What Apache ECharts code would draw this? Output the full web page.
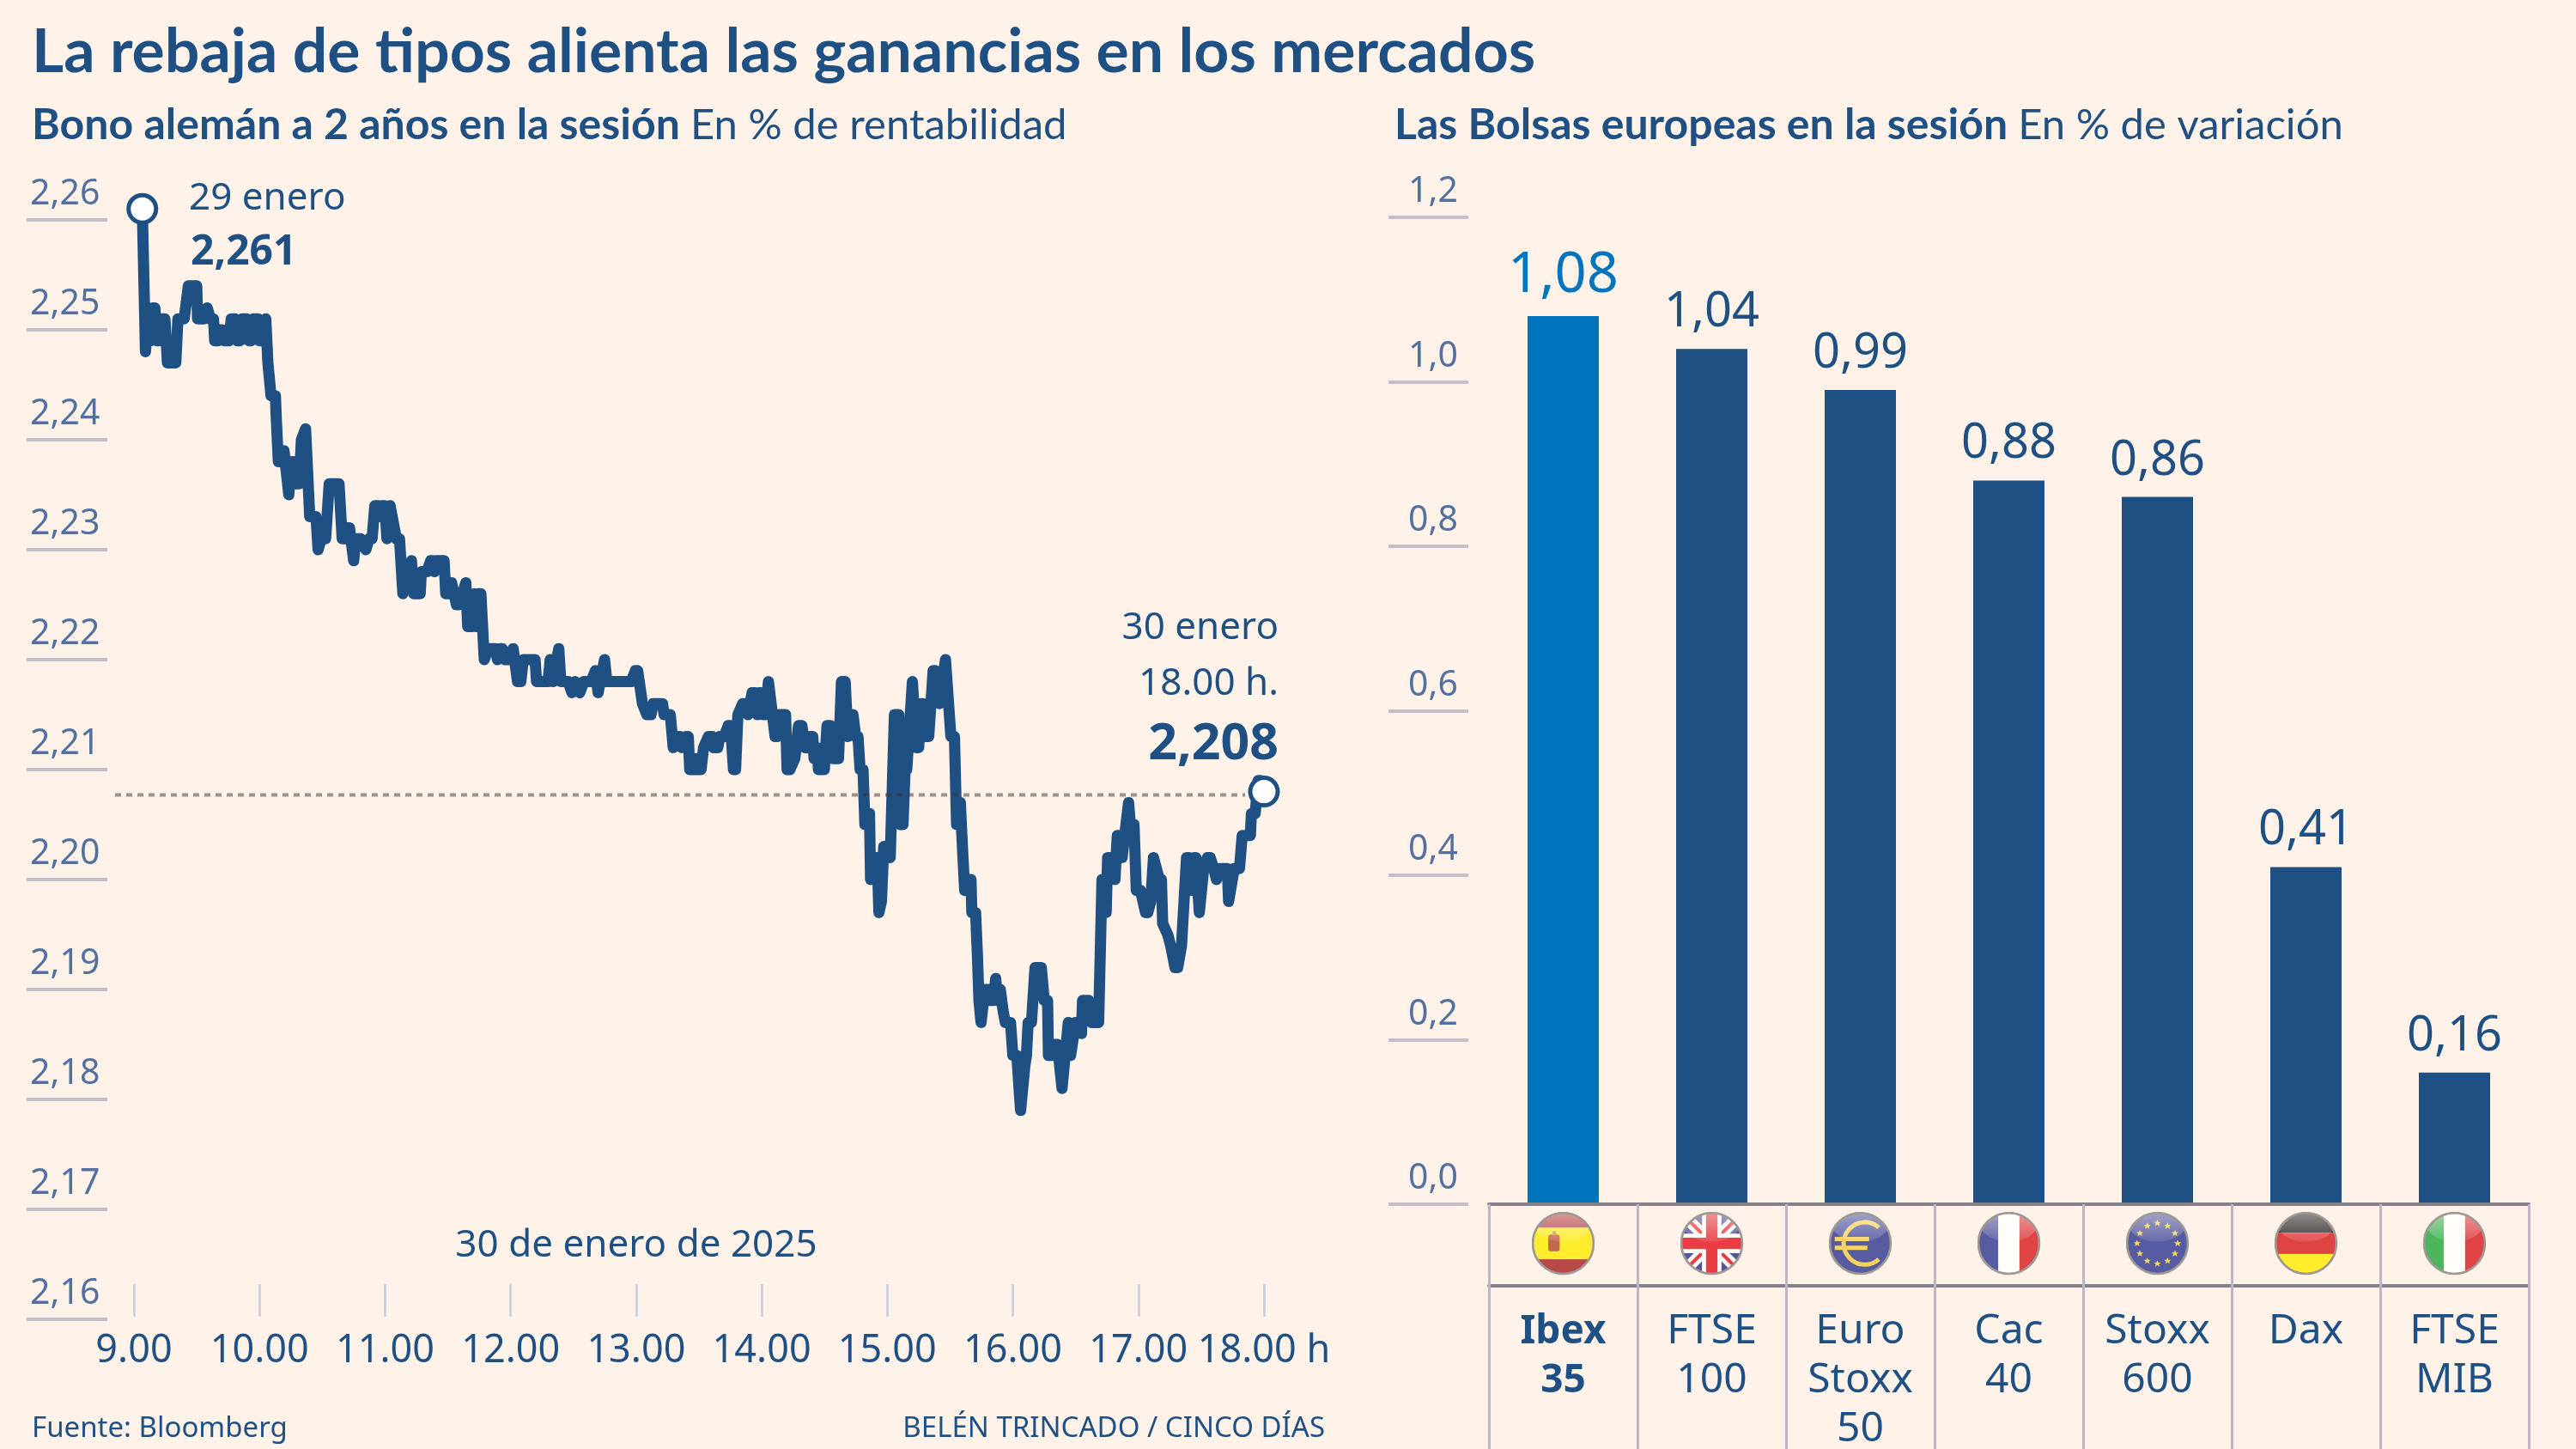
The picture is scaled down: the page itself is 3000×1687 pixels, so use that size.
<!DOCTYPE html>
<html><head><meta charset="utf-8">
<script src="https://cdn.jsdelivr.net/npm/echarts@6/dist/echarts.min.js"></script>
<style>html,body{margin:0;padding:0;background:#fff2e9}#c{width:3000px;height:1687px}</style>
</head><body><div id="c"></div>
<script>
// Left chart: minutes after 09:00 and 2-year Bund yield
const minutes = [
4,5.5,7,8,9,10,11,12,13.7,14.8,16,20,21,24,26,30,30.4,33.4,35,36.5,38,38.6,40,41,42,43.4,45.4,46.5,48.4,49.5,
50.6,51.6,54,55,56,57,59.4,60,62,63,64,65,65.5,67.6,68,69,70,71.7,74,75,76.6,77.4,79,80,82,83,84,87,88,89.5,
91.6,93.3,98,99.5,101,102,103,105,106,108.3,110.8,112.4,113.8,115.1,116.8,117.6,118.7,119.9,120.9,122.4,125.4,126.9,128.5,132.6,133.7,136.8,137.3,140,141.8,142.8,
143.6,144.6,148.2,149,151,151.8,152.3,154.1,155.5,158.6,159.5,161.9,162.7,163.6,164.4,165.8,167.4,169.2,172.6,173.7,175,176,177.4,179.4,181.2,181.9,183.3,184.9,186,191.7,
192.4,197.9,198.9,200.2,203,204,207.5,209.3,210.9,213.1,215,218.4,220.5,221.8,224.9,226,237.6,239.6,240.7,243,245.1,247.1,248.1,252.6,253.3,256.3,257.7,259.8,260.8,261.8,
263.9,264.9,265.6,267.6,268.6,269.4,271,272.2,274.5,276.3,277.1,279,280,282,284,285.1,286.5,287.5,288.6,290.9,292.7,293.4,295.4,297,297.9,298.7,299.8,300.6,301.8,303.2,
303.9,306.4,307.3,308.3,311.4,312.1,313.5,315.8,317.6,319.2,320.6,322,322.8,324.4,325,326.5,327.1,329.9,331.2,332.9,334,336.7,338.1,339.9,341.1,343.6,344.3,344.9,346,347,
348.4,349.3,350.4,351.5,352,353.8,355.2,356,357.2,358.3,359.3,360.3,361.4,363.4,365.5,366.1,367.5,368.9,369.3,372,372.7,373.9,375,376.1,377.1,378.5,379.8,381.9,383,384.9,
385.7,387.8,388.4,390.4,392.1,393.1,394.9,395.9,397,398,399,400,400.4,402.2,403.1,403.8,404.8,405.6,406.6,408.6,409.3,410.7,411.8,412.7,414,415.4,416.4,418.9,420,421.9,
423.7,425.7,426.5,427.3,428.9,430.6,433.6,435,436.6,437,439.1,440.1,441.4,442.4,443.5,444.2,445.5,446.5,447.6,448.4,450,451.4,452.8,453.3,456.2,457.8,461,462.6,464.6,465.3,
466.7,468.8,469.9,470.8,472.2,475.3,476,476.6,477.9,479,481,483.4,484.5,485.9,487.2,488,490,491,491.6,494,495.4,497.5,498.8,500.6,503,504.3,505.7,506.6,507.5,509.1,
509.8,511.2,513,514.3,516,517.3,518,519,522.5,523.1,523.9,525.8,528.3,529.6,533.5,534,535.8,537.2,538.2,540];
const yields = [
2.261,2.248,2.252,2.249,2.252,2.252,2.249,2.249,2.251,2.251,2.247,2.247,2.251,2.251,2.254,2.254,2.251,2.251,2.252,2.251,2.251,2.249,2.249,2.250,2.250,2.249,2.249,2.251,2.251,2.249,
2.249,2.251,2.251,2.249,2.249,2.251,2.251,2.249,2.249,2.251,2.247,2.245,2.244,2.244,2.242,2.238,2.238,2.239,2.235,2.238,2.238,2.236,2.236,2.240,2.241,2.237,2.233,2.233,2.230,2.231,
2.231,2.236,2.236,2.231,2.231,2.232,2.232,2.229,2.231,2.231,2.230,2.231,2.231,2.234,2.234,2.233,2.234,2.234,2.231,2.234,2.231,2.231,2.226,2.229,2.226,2.226,2.228,2.228,2.229,2.229,
2.228,2.229,2.229,2.226,2.226,2.227,2.227,2.225,2.225,2.227,2.223,2.223,2.226,2.223,2.226,2.226,2.220,2.221,2.221,2.220,2.221,2.221,2.220,2.220,2.221,2.221,2.218,2.218,2.220,2.220,
2.218,2.218,2.220,2.218,2.221,2.218,2.218,2.217,2.218,2.217,2.218,2.218,2.219,2.217,2.220,2.218,2.218,2.219,2.219,2.216,2.215,2.215,2.216,2.216,2.215,2.215,2.212,2.213,2.213,2.212,
2.213,2.213,2.210,2.210,2.211,2.210,2.210,2.212,2.213,2.213,2.212,2.212,2.213,2.213,2.214,2.214,2.210,2.210,2.215,2.216,2.216,2.215,2.217,2.217,2.215,2.217,2.217,2.215,2.215,2.218,
2.218,2.213,2.213,2.215,2.215,2.210,2.210,2.211,2.214,2.214,2.212,2.212,2.213,2.213,2.211,2.212,2.210,2.210,2.214,2.214,2.211,2.211,2.218,2.218,2.213,2.215,2.215,2.213,2.213,2.210,
2.210,2.205,2.205,2.206,2.200,2.202,2.202,2.197,2.198,2.203,2.203,2.202,2.202,2.215,2.215,2.205,2.205,2.212,2.210,2.218,2.218,2.212,2.212,2.216,2.216,2.213,2.213,2.219,2.219,2.216,
2.216,2.220,2.220,2.213,2.213,2.205,2.207,2.203,2.199,2.199,2.200,2.200,2.197,2.197,2.193,2.189,2.187,2.187,2.190,2.190,2.189,2.189,2.191,2.189,2.190,2.188,2.187,2.187,2.184,2.184,
2.179,2.183,2.184,2.187,2.187,2.192,2.192,2.189,2.189,2.184,2.184,2.185,2.185,2.183,2.181,2.181,2.185,2.187,2.184,2.184,2.187,2.187,2.186,2.189,2.189,2.187,2.187,2.200,2.197,2.202,
2.202,2.200,2.204,2.204,2.202,2.207,2.207,2.204,2.205,2.199,2.199,2.197,2.197,2.198,2.202,2.202,2.200,2.200,2.196,2.195,2.194,2.192,2.192,2.194,2.202,2.202,2.199,2.202,2.202,2.197,
2.197,2.201,2.202,2.202,2.201,2.200,2.200,2.201,2.201,2.198,2.198,2.201,2.201,2.204,2.204,2.206,2.206,2.209,2.209,2.208];
const closeLevel = 2.2077;
const yTicksLeft = {min: 2.16, max: 2.26, step: 0.01};
const hourTicks = {min: 0, max: 540, step: 60};

// Right chart
const indices = ['Ibex\n35','FTSE\n100','Euro\nStoxx\n50','Cac\n40','Stoxx\n600','Dax','FTSE\nMIB'];
const changes = [1.08,1.04,0.99,0.88,0.86,0.41,0.16];

// Text
const titleText = 'La rebaja de tipos alienta las ganancias en los mercados';
const NAVY = '#1f5084', BLUE = '#0074bd', AXIS = '#54709f', TICK = '#c6bdcb', BG = '#fff2e9';
const SANS = '"Noto Sans"', HEAD = 'Lato';

function svgFlag(inner){
  const s = `<svg xmlns="http://www.w3.org/2000/svg" width="144" height="144" viewBox="0 0 72 72"><defs><clipPath id="c"><circle cx="36" cy="36" r="34.5"/></clipPath><linearGradient id="g" x1="0" y1="0" x2="0" y2="1"><stop offset="0" stop-color="#fff" stop-opacity=".55"/><stop offset="1" stop-color="#fff" stop-opacity=".1"/></linearGradient></defs><g clip-path="url(#c)">${inner}<ellipse cx="36" cy="13" rx="33" ry="21" fill="url(#g)"/></g><circle cx="36" cy="36" r="34.5" fill="none" stroke="#85827f" stroke-width="2.6"/></svg>`;
  return 'image://data:image/svg+xml;charset=utf-8,' + encodeURIComponent(s);
}
function stars(){
  let o='';
  for(let i=0;i<12;i++){const a=i*Math.PI/6,x=36+23*Math.sin(a),y=36-23*Math.cos(a);
    o+=`<path transform="translate(${x.toFixed(1)} ${y.toFixed(1)})" d="M0-4 1.2-1.2 4-1.2 1.8.6 2.6 3.4 0 1.7-2.6 3.4-1.8.6-4-1.2-1.2-1.2Z" fill="#f5cf3a"/>`;}
  return o;
}
const flags = [
 svgFlag('<rect width="72" height="72" fill="#a8201f"/><rect y="18" width="72" height="36" fill="#ffec00"/><rect x="19" y="26" width="13" height="19" rx="3" fill="#b5452a"/><rect x="24" y="22" width="4" height="5" fill="#c78b2b"/>'),
 svgFlag('<rect width="72" height="72" fill="#2b2f86"/><path d="M0 0 72 72M72 0 0 72" stroke="#fff" stroke-width="13"/><path d="M0 0 72 72M72 0 0 72" stroke="#e3101b" stroke-width="4"/><path d="M36 0V72M0 36H72" stroke="#fff" stroke-width="22"/><path d="M36 0V72M0 36H72" stroke="#e3101b" stroke-width="13"/>'),
 svgFlag('<rect width="72" height="72" fill="#2e3690"/><path d="M57 18A24 24 0 1 0 57 54" fill="none" stroke="#f6cb3c" stroke-width="5"/><path d="M7 31H46M7 41H44" stroke="#f6cb3c" stroke-width="5"/>'),
 svgFlag('<rect width="24" height="72" fill="#2e3690"/><rect x="24" width="24" height="72" fill="#fff"/><rect x="48" width="24" height="72" fill="#d8181c"/>'),
 svgFlag('<rect width="72" height="72" fill="#2e3690"/>'+stars()),
 svgFlag('<rect width="72" height="24" fill="#000"/><rect y="24" width="72" height="24" fill="#d8181c"/><rect y="48" width="72" height="24" fill="#ffec00"/>'),
 svgFlag('<rect width="24" height="72" fill="#21a638"/><rect x="24" width="24" height="72" fill="#fff"/><rect x="48" width="24" height="72" fill="#d8181c"/>')
];

const comma = (v,d)=>v.toFixed(d).replace('.',',');
const linePts = minutes.map((m,i)=>[m,yields[i]]);
const lastIdx = minutes.length-1;

function txt(x,y,text,size,weight,align,fill,font){
  return {type:'text',silent:true,z:20,style:{x,y,text,fill:fill||NAVY,align:align||'left',verticalAlign:'bottom',
    font:`${weight||400} ${size}px ${font||SANS}`}};
}
function richTitle(x,y,b,r){
  return {type:'text',silent:true,z:20,style:{x,y,verticalAlign:'bottom',text:`{b|${b}\u00a0}{r|${r}}`,
    rich:{b:{fontFamily:HEAD,fontWeight:700,fontSize:50,fill:NAVY},
          r:{fontFamily:HEAD,fontWeight:400,fontSize:49,fill:NAVY}}}};
}

const chart = echarts.init(document.getElementById('c'),null,{renderer:'canvas'});
chart.setOption({
  backgroundColor:BG, animation:false,
  title:{text:titleText,left:37,top:25,padding:0,textStyle:{fontFamily:HEAD,fontWeight:700,fontSize:71.6,color:NAVY}},
  grid:[
    {left:156,width:1316,top:256,height:1280,outerBoundsMode:'none'},
    {left:1734,width:1211,top:253,height:1149,outerBoundsMode:'none'},
    {left:1734,width:1211,top:1402,height:95,outerBoundsMode:'none'},
    {left:125,width:20,top:256,height:1280,outerBoundsMode:'none'},
    {left:134,width:1316,top:256,height:1280,outerBoundsMode:'none'}
  ],
  xAxis:[
    {gridIndex:0,type:'value',min:hourTicks.min,max:hourTicks.max,interval:hourTicks.step,offset:-3,splitLine:{show:false},
     axisLine:{show:false},axisTick:{show:true,inside:true,length:38,lineStyle:{color:'#c5cbe0',width:2.5}},
     axisLabel:{color:NAVY,fontFamily:SANS,fontSize:45,margin:18,hideOverlap:false,showMinLabel:true,showMaxLabel:true,
       formatter:v=>(9+v/60)+'.00'+(v===hourTicks.max?' h':'')}},
    {gridIndex:1,type:'category',data:indices,boundaryGap:true,z:5,
     axisLine:{show:true,lineStyle:{color:'#86808a',width:4}},
     axisTick:{show:true,alignWithLabel:false,length:285,lineStyle:{color:'#bdb4c4',width:3}},
     axisLabel:{interval:0,margin:120,color:NAVY,fontFamily:SANS,fontSize:48,lineHeight:57,hideOverlap:false,
       formatter:(v,i)=>v.split('\n').map(t=>i===0?`{b|${t}}`:`{r|${t}}`).join('\n'),
       rich:{b:{fontFamily:SANS,fontSize:46,fontWeight:700,color:NAVY,lineHeight:57},
             r:{fontFamily:SANS,fontSize:48,color:NAVY,lineHeight:57}}}},
    {gridIndex:2,type:'category',data:indices,boundaryGap:true,
     axisLine:{show:true,lineStyle:{color:'#86808a',width:4}},axisTick:{show:false},axisLabel:{show:false}},
    {gridIndex:3,type:'value',min:0,max:1,show:false},
    {gridIndex:4,type:'value',min:0,max:1,show:false}
  ],
  yAxis:[
    {gridIndex:0,type:'value',min:yTicksLeft.min,max:yTicksLeft.max,interval:yTicksLeft.step,show:false},
    {gridIndex:1,type:'value',min:0,max:1.2,interval:0.2,offset:24,splitLine:{show:false},
     axisLine:{show:false},axisTick:{show:true,length:93,lineStyle:{color:TICK,width:4}},
     axisLabel:{align:'left',verticalAlign:'bottom',margin:70,color:AXIS,fontFamily:SANS,fontSize:41,padding:[0,0,9,0],
       formatter:v=>comma(v,1)}},
    {gridIndex:2,type:'value',min:0,max:1,show:false},
    {gridIndex:3,type:'value',min:yTicksLeft.min,max:yTicksLeft.max,interval:yTicksLeft.step,splitLine:{show:false},
     axisLine:{show:false},axisTick:{show:true,length:94,lineStyle:{color:TICK,width:4}},
     axisLabel:{align:'left',verticalAlign:'bottom',margin:90,color:AXIS,fontFamily:SANS,fontSize:41,padding:[0,0,9,0],
       formatter:v=>comma(v,2)}},
    {gridIndex:4,type:'value',min:yTicksLeft.min,max:yTicksLeft.max,show:false}
  ],
  series:[
    {type:'line',xAxisIndex:0,yAxisIndex:0,data:linePts,showSymbol:false,clip:false,z:3,
     lineStyle:{color:NAVY,width:13,cap:'round',join:'round'},silent:true},
    {type:'line',xAxisIndex:4,yAxisIndex:4,data:[[0,closeLevel],[1,closeLevel]],showSymbol:false,clip:false,z:4,
     lineStyle:{color:'rgba(60,50,50,0.5)',width:4,type:[7,6]},silent:true},
    {type:'scatter',xAxisIndex:0,yAxisIndex:0,clip:false,z:6,symbolSize:32,silent:true,
     data:[linePts[0],linePts[lastIdx]],itemStyle:{color:'#fff',borderColor:NAVY,borderWidth:5,opacity:1}},
    {type:'bar',xAxisIndex:1,yAxisIndex:1,barWidth:83,z:3,silent:true,
     data:changes.map((v,i)=>({value:v,itemStyle:{color:i===0?BLUE:NAVY},
       label:i===0?{color:BLUE,fontSize:65}:{}})),
     label:{show:true,position:'top',distance:14,fontFamily:SANS,fontSize:56,color:NAVY,formatter:p=>comma(p.value,2)}},
    {type:'scatter',xAxisIndex:2,yAxisIndex:2,silent:true,z:4,symbolSize:74,
     data:indices.map((n,i)=>({value:[i,0.52],symbol:flags[i]}))}
  ],
  graphic:[
    richTitle(37,171,'Bono alemán a 2 años en la sesión','En % de rentabilidad'),
    richTitle(1624,171,'Las Bolsas europeas en la sesión','En % de variación'),
    txt(220,253,'29 enero',44),
    txt(222,318,'2,261',48,700),
    txt(1489,753,'30 enero',44,400,'right'),
    txt(1489,818,'18.00 h.',44,400,'right'),
    txt(1489,897,'2,208',59,700,'right'),
    txt(741,1472,'30 de enero de 2025',44,400,'center'),
    txt(37,1680,'Fuente: Bloomberg',33),
    txt(1543,1680,'BELÉN TRINCADO / CINCO DÍAS',33,400,'right')
  ]
});
</script></body></html>
